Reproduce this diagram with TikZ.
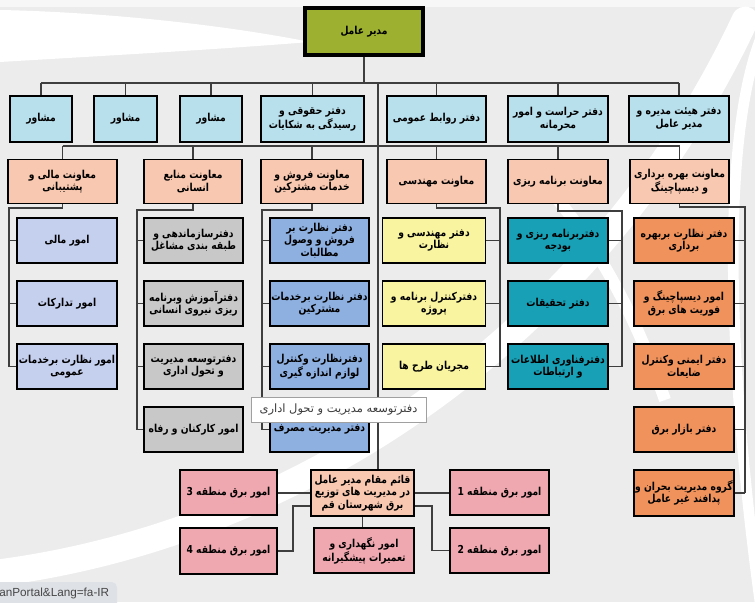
\documentclass[tikz,border=0pt]{standalone}
\usepackage{fontspec}
\setmainfont{DejaVu Sans}
\newfontfamily\fafont[Script=Arabic]{DejaVu Sans}
\newfontfamily\fanarrow[Script=Arabic,FakeStretch=0.84]{DejaVu Sans}
\newfontfamily\uifont{Liberation Sans}
\TeXXeTstate=1
\newcommand\fa[1]{\beginR#1\endR}
\definecolor{bgc}{RGB}{236,236,236}
\definecolor{topc}{RGB}{158,176,48}
\definecolor{lblue}{RGB}{184,224,236}
\definecolor{peach}{RGB}{248,200,176}
\definecolor{lav}{RGB}{197,208,238}
\definecolor{grayb}{RGB}{200,200,200}
\definecolor{mblue}{RGB}{142,176,224}
\definecolor{yel}{RGB}{248,244,160}
\definecolor{teal}{RGB}{24,160,182}
\definecolor{orng}{RGB}{240,146,92}
\definecolor{pink}{RGB}{240,168,176}
\definecolor{linec}{RGB}{62,62,62}
\definecolor{statc}{RGB}{222,225,230}
\tikzset{
  sz/.style 2 args={minimum width=#1*0.75pt, minimum height=#2*0.75pt},
  box/.style={draw=black, line width=1.4pt, inner sep=0.3pt, align=center,
    font=\fanarrow\bfseries\fontsize{8.2}{9.4}\selectfont},
  topbox/.style={box, fill=topc, line width=2.6pt},
  r1/.style={box, fill=lblue, sz={#1}{46}},
  r2/.style={box, fill=peach, sz={#1}{44}},
  cl/.style 2 args={box, fill=#1, sz={#2}{45}},
  conn/.style={draw=linec, line width=1.1pt},
  swoosh/.style={fill=white},
}
\begin{document}
\begin{tikzpicture}[x=0.75pt,y=-0.75pt]
\useasboundingbox (0,0) rectangle (755,602);
% background
\fill[bgc] (0,0) rectangle (755,602);
\fill[white!60!bgc] (0,0) rectangle (755,7);
\fill[swoosh] (0,10) .. controls (100,12) and (220,24) .. (310,42)
   .. controls (210,50) and (100,56) .. (0,62) -- cycle;
\draw[white, line width=20pt, line cap=round] (-20,575) .. controls (300,540) and (600,330) .. (745,20);
\draw[white, line width=9pt] (545,185) .. controls (590,235) and (630,300) .. (665,400);
\draw[white, line width=8pt] (760,40) .. controls (715,160) and (735,420) .. (760,602);

\coordinate (j0) at (364,83);
\coordinate (sp) at (378,83);
\coordinate (j2) at (378,146);

% top and row 1
\node[topbox, sz={118}{47}] (ceo) at (364,31.5) {\fa{مدیر عامل}};
\node[r1=62]  (a1) at (41,119)    {\fa{مشاور}};
\node[r1=63]  (a2) at (125.5,119) {\fa{مشاور}};
\node[r1=62]  (a3) at (211,119)   {\fa{مشاور}};
\node[r1=103] (a4) at (312.5,119) {\fa{دفتر حقوقی و}\\\fa{رسیدگی به شکایات}};
\node[r1=99]  (a5) at (436.5,119) {\fa{دفتر روابط عمومی}};
\node[r1=100] (a6) at (558,119)   {\fa{دفتر حراست و امور}\\\fa{محرمانه}};
\node[r1=100] (a7) at (679,119)   {\fa{دفتر هیئت مدیره و}\\\fa{مدیر عامل}};

% row 2
\node[r2=109] (b1) at (62.5,181.5)  {\fa{معاونت مالی و}\\\fa{پشتیبانی}};
\node[r2=98]  (b2) at (193,181.5)   {\fa{معاونت منابع}\\\fa{انسانی}};
\node[r2=102] (b3) at (312,181.5)   {\fa{معاونت فروش و}\\\fa{خدمات مشترکین}};
\node[r2=99]  (b4) at (436.5,181.5) {\fa{معاونت مهندسی}};
\node[r2=100] (b5) at (558,181.5)   {\fa{معاونت برنامه ریزی}};
\node[r2=99]  (b6) at (679.5,181.5) {\fa{معاونت بهره برداری}\\\fa{و دیسپاچینگ}};

% column 1
\node[cl={lav}{100}] (c11) at (67,240.5) {\fa{امور مالی}};
\node[cl={lav}{100}] (c12) at (67,303.5) {\fa{امور تدارکات}};
\node[cl={lav}{100}] (c13) at (67,366.5) {\fa{امور نظارت برخدمات}\\\fa{عمومی}};
% column 2
\node[cl={grayb}{99}] (c21) at (193.5,240.5) {\fa{دفترسازماندهی و}\\\fa{طبقه بندی مشاغل}};
\node[cl={grayb}{99}] (c22) at (193.5,303.5) {\fa{دفترآموزش وبرنامه}\\\fa{ریزی نیروی انسانی}};
\node[cl={grayb}{99}] (c23) at (193.5,366.5) {\fa{دفترتوسعه مدیریت}\\\fa{و تحول اداری}};
\node[cl={grayb}{99}] (c24) at (193.5,429.5) {\fa{امور کارکنان و رفاه}};
% column 3
\node[cl={mblue}{99}] (c31) at (319.5,240.5) {\fa{دفتر نظارت بر}\\\fa{فروش و وصول}\\\fa{مطالبات}};
\node[cl={mblue}{99}] (c32) at (319.5,303.5) {\fa{دفتر نظارت برخدمات}\\\fa{مشترکین}};
\node[cl={mblue}{99}] (c33) at (319.5,366.5) {\fa{دفترنظارت وکنترل}\\\fa{لوازم اندازه گیری}};
\node[cl={mblue}{99}] (c34) at (319.5,429.5) {\fa{دفتر مدیریت مصرف}};
% column 4
\node[cl={yel}{103}] (c41) at (434,240.5) {\fa{دفتر مهندسی و}\\\fa{نظارت}};
\node[cl={yel}{103}] (c42) at (434,303.5) {\fa{دفترکنترل برنامه و}\\\fa{پروژه}};
\node[cl={yel}{103}] (c43) at (434,366.5) {\fa{مجریان طرح ها}};
% column 5
\node[cl={teal}{100}] (c51) at (558,240.5) {\fa{دفتربرنامه ریزی و}\\\fa{بودجه}};
\node[cl={teal}{100}] (c52) at (558,303.5) {\fa{دفتر تحقیقات}};
\node[cl={teal}{100}] (c53) at (558,366.5) {\fa{دفترفناوری اطلاعات}\\\fa{و ارتباطات}};
% column 6
\node[cl={orng}{100}] (c61) at (684,240.5) {\fa{دفتر نظارت بربهره}\\\fa{برداری}};
\node[cl={orng}{100}] (c62) at (684,303.5) {\fa{امور دیسپاچینگ و}\\\fa{فوریت های برق}};
\node[cl={orng}{100}] (c63) at (684,366.5) {\fa{دفتر ایمنی وکنترل}\\\fa{ضایعات}};
\node[cl={orng}{100}] (c64) at (684,429.5) {\fa{دفتر بازار برق}};
\node[cl={orng}{100}, sz={100}{46}] (c65) at (684,493) {\fa{گروه مدیریت بحران و}\\\fa{پدافند غیر عامل}};

% bottom cluster
\node[box, fill=peach, sz={103}{46}] (q) at (362.5,493) {\fa{قائم مقام مدیر عامل}\\\fa{در مدیریت های توزیع}\\\fa{برق شهرستان قم}};
\node[cl={pink}{97}]  (m3) at (228.5,492.5) {\fa{امور برق منطقه 3}};
\node[cl={pink}{97}, sz={97}{46}] (m4) at (228.5,551) {\fa{امور برق منطقه 4}};
\node[cl={pink}{100}] (n)  at (364,550.5) {\fa{امور نگهداری و}\\\fa{تعمیرات پیشگیرانه}};
\node[cl={pink}{99}]  (m1) at (499.5,492.5) {\fa{امور برق منطقه 1}};
\node[cl={pink}{99}]  (m2) at (499.5,550.5) {\fa{امور برق منطقه 2}};

% connectors
\coordinate (k1) at (9,208);
\coordinate (k2) at (137,210);
\coordinate (k3) at (262,210);
\coordinate (k4) at (500,208);
\coordinate (k5) at (622,211);
\coordinate (k6) at (745,207);
\coordinate (l4) at (293,506);
\coordinate (l2) at (432,506);

\draw[conn] (ceo.south) -- (j0);
\draw[conn] (a1.north |- j0) -- (a7.north |- j0);
\foreach \a in {a1,a2,a3,a4,a5,a6,a7} \draw[conn] (\a.north |- j0) -- (\a.north);
\draw[conn] (sp) -- (sp |- q.north);
\draw[conn] (b1.north |- j2) -- (b6.north |- j2);
\foreach \b in {b1,b2,b3,b4,b5,b6} \draw[conn] (\b.north |- j2) -- (\b.north);

\draw[conn] (b1.south) -- (b1.south |- k1) -- (k1) -- (k1 |- c13.west);
\foreach \c in {c11,c12,c13} \draw[conn] (k1 |- \c.west) -- (\c.west);
\draw[conn] (b2.south) -- (b2.south |- k2) -- (k2) -- (k2 |- c24.west);
\foreach \c in {c21,c22,c23,c24} \draw[conn] (k2 |- \c.west) -- (\c.west);
\draw[conn] (b3.south) -- (b3.south |- k3) -- (k3) -- (k3 |- c34.west);
\foreach \c in {c31,c32,c33,c34} \draw[conn] (k3 |- \c.west) -- (\c.west);
\draw[conn] (b4.south) -- (b4.south |- k4) -- (k4) -- (k4 |- c43.east);
\foreach \c in {c41,c42,c43} \draw[conn] (\c.east) -- (k4 |- \c.east);
\draw[conn] (b5.south) -- (b5.south |- k5) -- (k5) -- (k5 |- c53.east);
\foreach \c in {c51,c52,c53} \draw[conn] (\c.east) -- (k5 |- \c.east);
\draw[conn] (b6.south) -- (b6.south |- k6) -- (k6) -- (k6 |- c65.east);
\foreach \c in {c61,c62,c63,c64,c65} \draw[conn] (\c.east) -- (k6 |- \c.east);

\draw[conn] (q.west) -- (q.west -| m3.east);
\draw[conn] (l4 -| q.west) -- (l4) -- (l4 |- m4.east) -- (m4.east);
\draw[conn] (q.east) -- (q.east -| m1.west);
\draw[conn] (l2 -| q.east) -- (l2) -- (l2 |- m2.west) -- (m2.west);
\draw[conn] (q.south) -- (q.south |- n.north);

% tooltip
\node[draw={rgb,255:red,160;green,160;blue,160}, fill=white, line width=0.6pt,
  sz={175}{25}, inner sep=2pt, text={rgb,255:red,60;green,60;blue,60},
  font=\fafont\fontsize{8.6}{10}\selectfont] (tip) at (338.5,409.5) {\fa{دفترتوسعه مدیریت و تحول اداری}};

% status bar
\fill[statc, rounded corners=4pt] (-10,582) rectangle (117,615);
\node[anchor=west, inner sep=0pt, text={rgb,255:red,70;green,70;blue,70},
  font=\uifont\fontsize{8.8}{10}\selectfont] (stat) at (-1,593) {anPortal\&Lang=fa-IR};
\end{tikzpicture}
\end{document}
